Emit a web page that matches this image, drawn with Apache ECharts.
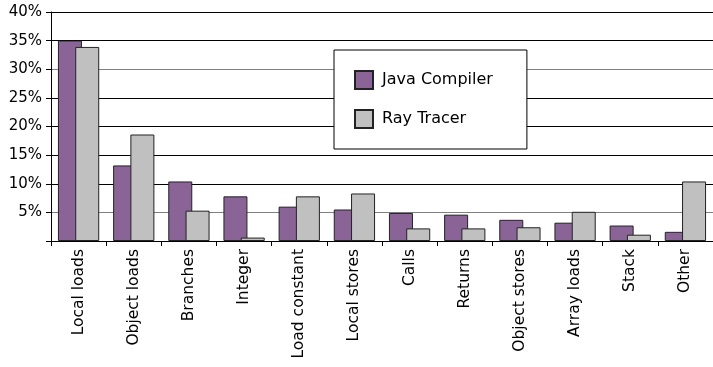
<!DOCTYPE html>
<html>
<head>
<meta charset="utf-8">
<script src="https://cdn.jsdelivr.net/npm/echarts@6/dist/echarts.min.js"></script>
<style>
html,body{margin:0;padding:0;background:#fff;}
#chart{width:713px;height:367px;}
</style>
</head>
<body>
<div id="chart"></div>
<script>
const categories = ['Local loads','Object loads','Branches','Integer','Load constant','Local stores','Calls','Returns','Object stores','Array loads','Stack','Other'];
const javaCompiler = [35, 13.2, 10.4, 7.8, 6.0, 5.5, 4.9, 4.6, 3.7, 3.2, 2.7, 1.6];
const rayTracer = [33.9, 18.6, 5.3, 0.6, 7.8, 8.3, 2.2, 2.2, 2.4, 5.1, 1.1, 10.4];
const seriesNames = ['Java Compiler', 'Ray Tracer'];
const yMin = 0, yMax = 40, yStep = 5;

const font = 'DejaVu Sans';
const chart = echarts.init(document.getElementById('chart'), null, {renderer: 'canvas'});
chart.setOption({
  animation: false,
  backgroundColor: '#fff',
  grid: {left: 51, top: 12, width: 665, height: 229, containLabel: false},
  legend: {
    orient: 'vertical',
    left: 334, top: 50,
    padding: [20, 34, 20, 20],
    itemWidth: 18, itemHeight: 18, itemGap: 19,
    backgroundColor: '#fff',
    borderColor: '#000', borderWidth: 1,
    icon: 'rect',
    textStyle: {fontFamily: font, fontSize: 16, color: '#000', padding: [0, 0, 0, 4]},
    data: seriesNames
  },
  xAxis: {
    type: 'category',
    data: categories,
    axisLine: {lineStyle: {color: '#000', width: 1}},
    axisTick: {show: true, length: 5, interval: 0, lineStyle: {color: '#000'}},
    axisLabel: {rotate: 90, interval: 0, margin: 8, fontFamily: font, fontSize: 15.5, color: '#000'},
    splitLine: {show: false}
  },
  yAxis: {
    type: 'value',
    min: yMin, max: yMax, interval: yStep,
    axisLine: {show: true, lineStyle: {color: '#000', width: 1}},
    axisTick: {show: true, length: 5, lineStyle: {color: '#000'}},
    axisLabel: {margin: 9, fontFamily: font, fontSize: 15, color: '#000',
      formatter: v => v === 0 ? '' : v + '%'},
    splitLine: {show: true, lineStyle: {width: 1, color: ['#000','#808080','#000','#000','#000','#000','#808080','#000','#000']}}
  },
  series: [
    {
      name: seriesNames[0], type: 'bar', data: javaCompiler,
      barWidth: 24, barGap: '-28%',
      itemStyle: {color: '#8b6497', borderColor: '#222', borderWidth: 1}
    },
    {
      name: seriesNames[1], type: 'bar', data: rayTracer,
      barWidth: 24, barGap: '-28%',
      itemStyle: {color: '#c0c0c0', borderColor: '#222', borderWidth: 1}
    }
  ]
});
</script>
</body>
</html>
